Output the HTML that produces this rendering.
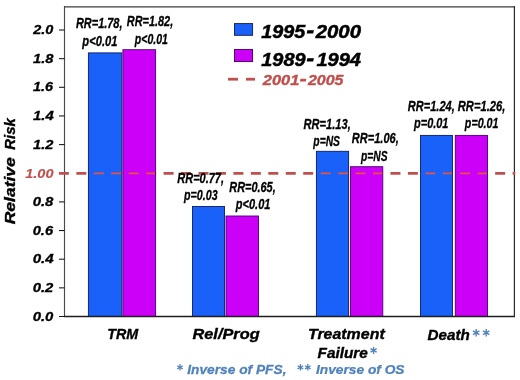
<!DOCTYPE html>
<html><head><meta charset="utf-8"><title>Relative Risk</title>
<style>html,body{margin:0;padding:0;background:#fff;}svg{display:block;will-change:transform;filter:blur(0.3px);}text{font-family:"Liberation Sans",sans-serif;font-weight:bold;font-style:italic;}</style></head><body>
<svg width="520" height="380" viewBox="0 0 520 380">
<rect x="0" y="0" width="520" height="380" fill="#fff"/>
<line x1="64.5" y1="6.2" x2="64.5" y2="317.1" stroke="#4a4a4a" stroke-width="1.15"/>
<line x1="64.0" y1="6.8" x2="515.0" y2="6.8" stroke="#3c3c3c" stroke-width="1.2"/>
<line x1="514.4" y1="6.2" x2="514.4" y2="317.1" stroke="#282828" stroke-width="1.2"/>
<line x1="59" y1="316.5" x2="64.5" y2="316.5" stroke="#151515" stroke-width="1.05"/>
<text transform="translate(32.70,320.6) scale(1.2000,1)" font-size="12.4" fill="#000" stroke="#000" stroke-width="0.3">0.0</text>
<line x1="59" y1="287.85" x2="64.5" y2="287.85" stroke="#151515" stroke-width="1.05"/>
<text transform="translate(32.70,291.95) scale(1.2000,1)" font-size="12.4" fill="#000" stroke="#000" stroke-width="0.3">0.2</text>
<line x1="59" y1="259.2" x2="64.5" y2="259.2" stroke="#151515" stroke-width="1.05"/>
<text transform="translate(32.70,263.3) scale(1.2179,1)" font-size="12.4" fill="#000" stroke="#000" stroke-width="0.3">0.4</text>
<line x1="59" y1="230.55" x2="64.5" y2="230.55" stroke="#151515" stroke-width="1.05"/>
<text transform="translate(32.70,234.65) scale(1.1826,1)" font-size="12.4" fill="#000" stroke="#000" stroke-width="0.3">0.6</text>
<line x1="59" y1="201.9" x2="64.5" y2="201.9" stroke="#151515" stroke-width="1.05"/>
<text transform="translate(32.70,206.0) scale(1.2000,1)" font-size="12.4" fill="#000" stroke="#000" stroke-width="0.3">0.8</text>
<line x1="59" y1="173.25" x2="64.5" y2="173.25" stroke="#151515" stroke-width="1.05"/>
<text transform="translate(25.21,177.75) scale(1.1747,1)" font-size="12.4" fill="#c0504d" stroke="#c0504d" stroke-width="0.12">1.00</text>
<line x1="59" y1="144.6" x2="64.5" y2="144.6" stroke="#151515" stroke-width="1.05"/>
<text transform="translate(33.00,148.7) scale(1.1826,1)" font-size="12.4" fill="#000" stroke="#000" stroke-width="0.3">1.2</text>
<line x1="59" y1="115.95" x2="64.5" y2="115.95" stroke="#151515" stroke-width="1.05"/>
<text transform="translate(33.00,120.05) scale(1.2000,1)" font-size="12.4" fill="#000" stroke="#000" stroke-width="0.3">1.4</text>
<line x1="59" y1="87.3" x2="64.5" y2="87.3" stroke="#151515" stroke-width="1.05"/>
<text transform="translate(33.00,91.4) scale(1.1657,1)" font-size="12.4" fill="#000" stroke="#000" stroke-width="0.3">1.6</text>
<line x1="59" y1="58.65" x2="64.5" y2="58.65" stroke="#151515" stroke-width="1.05"/>
<text transform="translate(33.00,62.75) scale(1.1826,1)" font-size="12.4" fill="#000" stroke="#000" stroke-width="0.3">1.8</text>
<line x1="59" y1="30.0" x2="64.5" y2="30.0" stroke="#151515" stroke-width="1.05"/>
<text transform="translate(33.29,34.1) scale(1.1657,1)" font-size="12.4" fill="#000" stroke="#000" stroke-width="0.3">2.0</text>
<line x1="58.9" y1="173.3" x2="515.3" y2="173.3" stroke="#c0504d" stroke-width="2.8" stroke-dasharray="10 7.45"/>
<defs><clipPath id="bc">
<rect x="88.9" y="52.9" width="32.4" height="263.6"/>
<rect x="123.4" y="49.7" width="31.7" height="266.8"/>
<rect x="193.0" y="206.5" width="31.0" height="110.0"/>
<rect x="226.5" y="216" width="31.5" height="100.5"/>
<rect x="316.9" y="151.3" width="31.2" height="165.2"/>
<rect x="351.0" y="166.7" width="31.3" height="149.8"/>
<rect x="421.0" y="135.4" width="31.0" height="181.1"/>
<rect x="455.8" y="135.4" width="31.2" height="181.1"/>
</clipPath></defs>
<rect x="88.4" y="52.9" width="33.4" height="263.6" fill="#1a61fa" stroke="#0c1a66" stroke-width="0.9"/>
<rect x="122.9" y="49.7" width="32.7" height="266.8" fill="#cc00f8" stroke="#4a0070" stroke-width="0.9"/>
<rect x="192.5" y="206.5" width="32.0" height="110.0" fill="#1a61fa" stroke="#0c1a66" stroke-width="0.9"/>
<rect x="226" y="216" width="32.5" height="100.5" fill="#cc00f8" stroke="#4a0070" stroke-width="0.9"/>
<rect x="316.4" y="151.3" width="32.2" height="165.2" fill="#1a61fa" stroke="#0c1a66" stroke-width="0.9"/>
<rect x="350.5" y="166.7" width="32.3" height="149.8" fill="#cc00f8" stroke="#4a0070" stroke-width="0.9"/>
<rect x="420.5" y="135.4" width="32.0" height="181.1" fill="#1a61fa" stroke="#0c1a66" stroke-width="0.9"/>
<rect x="455.3" y="135.4" width="32.2" height="181.1" fill="#cc00f8" stroke="#4a0070" stroke-width="0.9"/>
<line x1="64.0" y1="316.5" x2="515.0" y2="316.5" stroke="#1e1e1e" stroke-width="1.3"/>
<g clip-path="url(#bc)"><line x1="58.9" y1="173.3" x2="515.3" y2="173.3" stroke="#e4543e" stroke-width="1.8" stroke-dasharray="10 7.45"/></g>
<text transform="translate(15.1,224.25) rotate(-90) scale(1.1973,1)" font-size="14.6" stroke="#000" stroke-width="0.35">Relative</text>
<text transform="translate(15.1,149.70) rotate(-90) scale(1.0205,1)" font-size="14.6" stroke="#000" stroke-width="0.35">Risk</text>
<rect x="234.5" y="23.6" width="18.1" height="11.7" fill="#1a61fa" stroke="#0c1a55" stroke-width="0.9"/>
<rect x="234.5" y="49.4" width="18.1" height="12.2" fill="#cc00f8" stroke="#35004f" stroke-width="0.9"/>
<text transform="translate(261.30,37.8) scale(1.0409,1)" font-size="19.0" fill="#000" stroke="#000" stroke-width="0.5">1995</text>
<text transform="translate(306.80,37.4) scale(1.1200,1)" font-size="19.0" fill="#000" stroke="#000" stroke-width="1.0">-</text>
<text transform="translate(315.74,37.8) scale(1.0713,1)" font-size="19.0" fill="#000" stroke="#000" stroke-width="0.5">2000</text>
<text transform="translate(261.30,65.8) scale(1.0471,1)" font-size="19.0" fill="#000" stroke="#000" stroke-width="0.5">1989</text>
<text transform="translate(306.80,65.4) scale(1.1200,1)" font-size="19.0" fill="#000" stroke="#000" stroke-width="1.0">-</text>
<text transform="translate(316.40,65.8) scale(1.0556,1)" font-size="19.0" fill="#000" stroke="#000" stroke-width="0.5">1994</text>
<line x1="228" y1="79.2" x2="238" y2="79.2" stroke="#c0504d" stroke-width="2.8"/>
<line x1="246" y1="79.2" x2="255" y2="79.2" stroke="#c0504d" stroke-width="2.8"/>
<text transform="translate(262.86,84.5) scale(1.1256,1)" font-size="14.6" fill="#c0504d" stroke="#c0504d" stroke-width="0.35">2001</text>
<text transform="translate(299.90,83.7) scale(1.2842,1)" font-size="14.6" fill="#c0504d" stroke="#c0504d" stroke-width="0.8">-</text>
<text transform="translate(307.95,84.5) scale(1.0947,1)" font-size="14.6" fill="#c0504d" stroke="#c0504d" stroke-width="0.35">2005</text>
<text transform="translate(75.92,27.5) scale(0.7312,1)" font-size="15.0" fill="#000" stroke="#000" stroke-width="0.3">RR=1.78,</text>
<text transform="translate(82.37,45.75) scale(0.7447,1)" font-size="15.0" fill="#000" stroke="#000" stroke-width="0.3">p&lt;0.01</text>
<text transform="translate(126.82,25.75) scale(0.7280,1)" font-size="15.0" fill="#000" stroke="#000" stroke-width="0.3">RR=1.82,</text>
<text transform="translate(134.85,44) scale(0.7021,1)" font-size="15.0" fill="#000" stroke="#000" stroke-width="0.3">p&lt;0.01</text>
<text transform="translate(177.32,182.5) scale(0.7320,1)" font-size="15.0" fill="#000" stroke="#000" stroke-width="0.3">RR=0.77,</text>
<text transform="translate(184.11,199.5) scale(0.7105,1)" font-size="15.0" fill="#000" stroke="#000" stroke-width="0.3">p=0.03</text>
<text transform="translate(229.32,192) scale(0.7280,1)" font-size="15.0" fill="#000" stroke="#000" stroke-width="0.3">RR=0.65,</text>
<text transform="translate(235.87,209.25) scale(0.7340,1)" font-size="15.0" fill="#000" stroke="#000" stroke-width="0.3">p&lt;0.01</text>
<text transform="translate(303.56,128.75) scale(0.7400,1)" font-size="15.0" fill="#000" stroke="#000" stroke-width="0.3">RR=1.13,</text>
<text transform="translate(313.34,146.25) scale(0.6879,1)" font-size="15.0" fill="#000" stroke="#000" stroke-width="0.3">p=NS</text>
<text transform="translate(351.82,143.25) scale(0.7360,1)" font-size="15.0" fill="#000" stroke="#000" stroke-width="0.3">RR=1.06,</text>
<text transform="translate(361.09,160.5) scale(0.6815,1)" font-size="15.0" fill="#000" stroke="#000" stroke-width="0.3">p=NS</text>
<text transform="translate(407.82,110.5) scale(0.7360,1)" font-size="15.0" fill="#000" stroke="#000" stroke-width="0.3">RR=1.24,</text>
<text transform="translate(414.11,127.5) scale(0.7287,1)" font-size="15.0" fill="#000" stroke="#000" stroke-width="0.3">p=0.01</text>
<text transform="translate(457.81,110.5) scale(0.7440,1)" font-size="15.0" fill="#000" stroke="#000" stroke-width="0.3">RR=1.26,</text>
<text transform="translate(464.86,127.5) scale(0.7128,1)" font-size="15.0" fill="#000" stroke="#000" stroke-width="0.3">p=0.01</text>
<text transform="translate(107.27,339.35) scale(0.9685,1)" font-size="14.8" fill="#000" stroke="#000" stroke-width="0.35">TRM</text>
<text transform="translate(192.50,339.35) scale(1.1029,1)" font-size="14.8" fill="#000" stroke="#000" stroke-width="0.35">Rel/Prog</text>
<text transform="translate(307.94,339.35) scale(1.0772,1)" font-size="14.8" fill="#000" stroke="#000" stroke-width="0.35">Treatment</text>
<text transform="translate(317.50,357.9) scale(1.0383,1)" font-size="14.8" fill="#000" stroke="#000" stroke-width="0.35">Failure</text>
<text transform="translate(427.50,339.8) scale(1.0282,1)" font-size="14.8" fill="#000" stroke="#000" stroke-width="0.35">Death</text>
<line x1="373.60" y1="346.85" x2="373.60" y2="353.95" stroke="#4f81bd" stroke-width="1.35"/>
<line x1="370.53" y1="348.62" x2="376.67" y2="352.17" stroke="#4f81bd" stroke-width="1.35"/>
<line x1="376.67" y1="348.62" x2="370.53" y2="352.17" stroke="#4f81bd" stroke-width="1.35"/>
<line x1="476.20" y1="329.00" x2="476.20" y2="336.40" stroke="#4f81bd" stroke-width="1.4"/>
<line x1="473.00" y1="330.85" x2="479.40" y2="334.55" stroke="#4f81bd" stroke-width="1.4"/>
<line x1="479.40" y1="330.85" x2="473.00" y2="334.55" stroke="#4f81bd" stroke-width="1.4"/>
<line x1="486.20" y1="329.00" x2="486.20" y2="336.40" stroke="#4f81bd" stroke-width="1.4"/>
<line x1="483.00" y1="330.85" x2="489.40" y2="334.55" stroke="#4f81bd" stroke-width="1.4"/>
<line x1="489.40" y1="330.85" x2="483.00" y2="334.55" stroke="#4f81bd" stroke-width="1.4"/>
<line x1="180.00" y1="364.10" x2="180.00" y2="370.50" stroke="#4f81bd" stroke-width="1.3"/>
<line x1="177.23" y1="365.70" x2="182.77" y2="368.90" stroke="#4f81bd" stroke-width="1.3"/>
<line x1="182.77" y1="365.70" x2="177.23" y2="368.90" stroke="#4f81bd" stroke-width="1.3"/>
<text transform="translate(187.25,373.6) scale(1.0182,1)" font-size="13.5" fill="#4f81bd" stroke="#4f81bd" stroke-width="0.25">Inverse of PFS,</text>
<line x1="300.40" y1="364.10" x2="300.40" y2="370.50" stroke="#4f81bd" stroke-width="1.3"/>
<line x1="297.63" y1="365.70" x2="303.17" y2="368.90" stroke="#4f81bd" stroke-width="1.3"/>
<line x1="303.17" y1="365.70" x2="297.63" y2="368.90" stroke="#4f81bd" stroke-width="1.3"/>
<line x1="307.80" y1="364.10" x2="307.80" y2="370.50" stroke="#4f81bd" stroke-width="1.3"/>
<line x1="305.03" y1="365.70" x2="310.57" y2="368.90" stroke="#4f81bd" stroke-width="1.3"/>
<line x1="310.57" y1="365.70" x2="305.03" y2="368.90" stroke="#4f81bd" stroke-width="1.3"/>
<text transform="translate(316.00,373.6) scale(1.0173,1)" font-size="13.5" fill="#4f81bd" stroke="#4f81bd" stroke-width="0.25">Inverse of OS</text>
</svg></body></html>
